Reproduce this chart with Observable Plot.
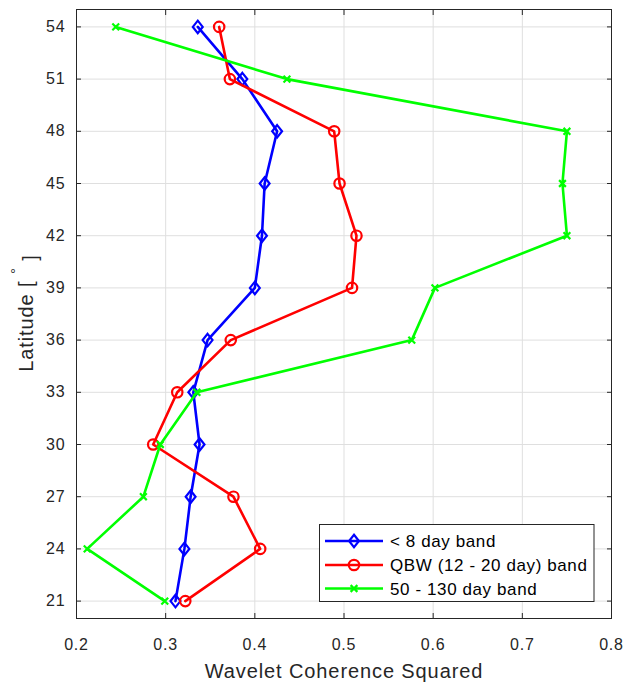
<!DOCTYPE html>
<html><head><meta charset="utf-8">
<script src="https://cdn.jsdelivr.net/npm/d3@7"></script>
<script src="https://cdn.jsdelivr.net/npm/@observablehq/plot@0.6"></script>
<style>body{margin:0;background:#fff;} svg{display:block;}</style>
</head><body><div id="chart"></div>
<script>
const latitudes = [54, 51, 48, 45, 42, 39, 36, 33, 30, 27, 24, 21];
const shortBand = [0.336, 0.386, 0.425, 0.411, 0.408, 0.400, 0.347, 0.331, 0.338, 0.328, 0.321, 0.311];
const qbwBand   = [0.360, 0.372, 0.489, 0.495, 0.514, 0.509, 0.373, 0.313, 0.286, 0.376, 0.406, 0.322];
const longBand  = [0.244, 0.436, 0.750, 0.745, 0.750, 0.602, 0.576, 0.335, 0.294, 0.275, 0.212, 0.299];
const seriesNames = ["< 8 day band", "QBW (12 - 20 day) band", "50 - 130 day band"];
const seriesColors = ["#0000ff", "#ff0000", "#00ff00"];
const xTicks = [0.2, 0.3, 0.4, 0.5, 0.6, 0.7, 0.8];
const yTicks = [21, 24, 27, 30, 33, 36, 39, 42, 45, 48, 51, 54];
const xLabel = "Wavelet Coherence Squared";
const yLabel = "Latitude [";

const FONT = "'Liberation Sans', Arial, Helvetica, sans-serif";
const INK = "#262626";

const diamond = {draw(ctx, size) { const r = Math.sqrt(size / Math.PI); ctx.moveTo(0, -r * 1.2); ctx.lineTo(r * 0.95, 0); ctx.lineTo(0, r * 1.2); ctx.lineTo(-r * 0.95, 0); ctx.closePath(); }};
const circle = {draw(ctx, size) { const r = Math.sqrt(size / Math.PI); ctx.moveTo(r, 0); ctx.arc(0, 0, r, 0, 2 * Math.PI); }};
const cross = {draw(ctx, size) { const r = Math.sqrt(size / Math.PI); ctx.moveTo(-r, -r); ctx.lineTo(r, r); ctx.moveTo(-r, r); ctx.lineTo(r, -r); }};
const symbols = [diamond, circle, cross];
const symbolR = [5.2, 5.2, 3.4];

const seriesValues = [shortBand, qbwBand, longBand];
const tables = seriesValues.map(vals => latitudes.map((lat, i) => ({lat, v: vals[i]})));

const seriesMarks = tables.flatMap((rows, k) => [
  Plot.line(rows, {x: "v", y: "lat", stroke: seriesColors[k], strokeWidth: 2.6}),
  Plot.dot(rows, {x: "v", y: "lat", symbol: symbols[k], r: symbolR[k], stroke: seriesColors[k], strokeWidth: 2.2, fill: "none"})
]);

const blank = () => "";
const svg = Plot.plot({
  width: 629, height: 688,
  marginLeft: 76, marginRight: 18, marginTop: 9, marginBottom: 70,
  style: {fontFamily: FONT, background: "white", color: INK},
  x: {domain: [0.2, 0.8]},
  y: {domain: [20, 55]},
  marks: [
    Plot.gridX(xTicks, {stroke: "#dfdfdf", strokeOpacity: 1, strokeWidth: 1}),
    Plot.gridY(yTicks, {stroke: "#dfdfdf", strokeOpacity: 1, strokeWidth: 1}),
    ...seriesMarks,
    Plot.frame({stroke: INK, strokeWidth: 1}),
    Plot.axisX(xTicks, {anchor: "bottom", tickSize: 0, tickPadding: 20, tickFormat: d3.format(".1f"), fontSize: 16, fill: INK, label: null}),
    Plot.axisX(xTicks, {anchor: "bottom", tickSize: -5, tickFormat: blank, stroke: INK, label: null}),
    Plot.axisX(xTicks, {anchor: "top", tickSize: -5, tickFormat: blank, stroke: INK, label: null}),
    Plot.axisY(yTicks, {anchor: "left", tickSize: 0, tickPadding: 11, fontSize: 16, fill: INK, label: null}),
    Plot.axisY(yTicks, {anchor: "left", tickSize: -5, tickFormat: blank, stroke: INK, label: null}),
    Plot.axisY(yTicks, {anchor: "right", tickSize: -5, tickFormat: blank, stroke: INK, label: null})
  ]
});
document.getElementById("chart").appendChild(svg);

const s = d3.select(svg);
s.selectAll("text").style("letter-spacing", "0.8px");

// axis titles
s.append("text").attr("x", 344).attr("y", 678).attr("text-anchor", "middle")
  .attr("font-family", FONT).attr("font-size", 20).attr("fill", INK).style("letter-spacing", "0.9px").text(xLabel);
const yl = s.append("text").attr("transform", "translate(33,313) rotate(-90)").attr("text-anchor", "middle")
  .attr("font-family", FONT).attr("font-size", 20).attr("fill", INK).style("letter-spacing", "0.9px");
yl.append("tspan").text(yLabel + " ");
yl.append("tspan").attr("dy", "-0.8em").attr("font-size", 15).text("°");
yl.append("tspan").attr("dy", "0.8em").text(" ]");

// legend
const lg = s.append("g");
lg.append("rect").attr("x", 319.5).attr("y", 524.5).attr("width", 274.5).attr("height", 77)
  .attr("fill", "white").attr("stroke", INK).attr("stroke-width", 1);
const rowY = [541, 565, 588.5];
seriesNames.forEach((name, k) => {
  const y = rowY[k];
  lg.append("line").attr("x1", 325).attr("x2", 383).attr("y1", y).attr("y2", y)
    .attr("stroke", seriesColors[k]).attr("stroke-width", 2.6);
  const sym = d3.path();
  symbols[k].draw(sym, Math.PI * symbolR[k] * symbolR[k]);
  lg.append("path").attr("transform", `translate(354,${y})`).attr("d", sym.toString())
    .attr("fill", "none").attr("stroke", seriesColors[k]).attr("stroke-width", 2.2);
  lg.append("text").attr("x", 390).attr("y", y).attr("dy", "0.36em").attr("text-anchor", "start")
    .attr("font-family", FONT).attr("font-size", 17).attr("fill", "#000").style("letter-spacing", "0.6px").text(name);
});
</script>
</body></html>
